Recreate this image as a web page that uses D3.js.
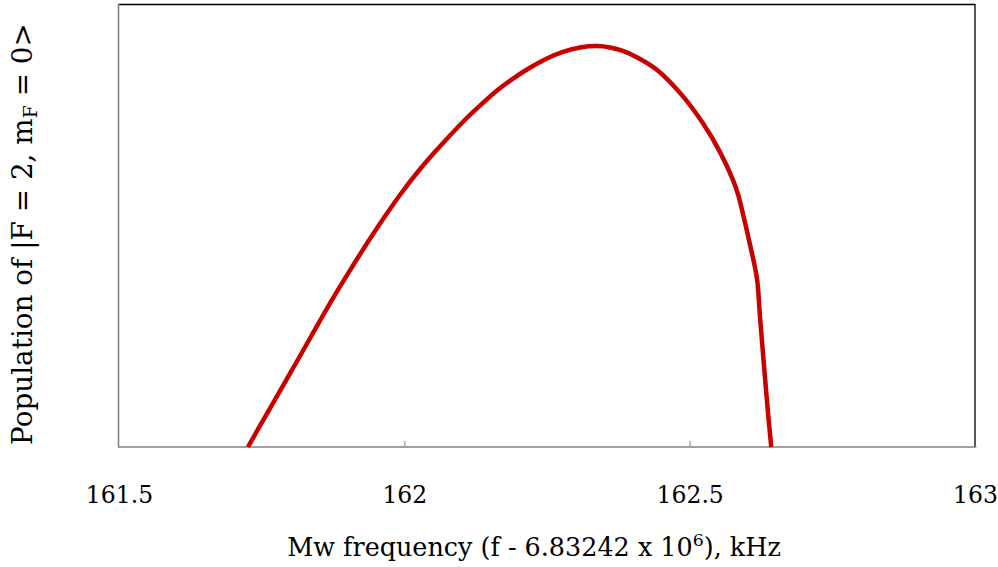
<!DOCTYPE html>
<html>
<head>
<meta charset="utf-8">
<script src="https://cdn.jsdelivr.net/npm/d3@7"></script>
<style>
  html, body { margin: 0; padding: 0; background: #fff; }
  svg { display: block; }
  text { font-family: "DejaVu Serif", "Liberation Serif", serif; fill: #000; }
</style>
</head>
<body>
<svg id="chart" width="998" height="567"></svg>
<script>
// ---- data ----
const freq = [161.726, 161.752, 161.805, 161.873, 161.908, 161.945, 161.992, 162.027, 162.063, 162.106,
              162.133, 162.162, 162.190, 162.220, 162.250, 162.278, 162.308, 162.338, 162.360, 162.383,
              162.413, 162.443, 162.488, 162.523, 162.553, 162.576, 162.585, 162.593, 162.606, 162.618,
              162.623, 162.630, 162.637, 162.643];
const population = [0.000, 0.059, 0.178, 0.332, 0.406, 0.481, 0.569, 0.627, 0.680, 0.739,
                    0.772, 0.805, 0.832, 0.857, 0.878, 0.893, 0.903, 0.906, 0.903, 0.895,
                    0.877, 0.852, 0.793, 0.732, 0.667, 0.603, 0.570, 0.529, 0.456, 0.380,
                    0.298, 0.188, 0.081, 0.000];
const xTickValues = [161.5, 162, 162.5, 163];
const xTickLabels = ["161.5", "162", "162.5", "163"];
const xDomain = [161.5, 163];
const yDomain = [0, 1];

// ---- layout ----
const svg = d3.select("#chart");
const L = 119, R = 975, T = 4.5, B = 447;
const x = d3.scaleLinear().domain(xDomain).range([L, R]);
const y = d3.scaleLinear().domain(yDomain).range([B, T]);

// frame: top & right black, left & bottom grey
svg.append("line").attr("x1", L - 1).attr("x2", R + 0.5).attr("y1", T).attr("y2", T)
  .attr("stroke", "#000").attr("stroke-width", 1.3);
svg.append("line").attr("x1", R).attr("x2", R).attr("y1", T).attr("y2", B)
  .attr("stroke", "#000").attr("stroke-width", 1.3);
svg.append("line").attr("x1", L - 0.5).attr("x2", L - 0.5).attr("y1", T - 0.6).attr("y2", B)
  .attr("stroke", "#808080").attr("stroke-width", 1.6);

// x axis
const xAxis = d3.axisBottom(x)
  .tickValues(xTickValues)
  .tickFormat((d, i) => xTickLabels[i])
  .tickSizeInner(-6).tickSizeOuter(0);
const gx = svg.append("g").attr("transform", `translate(0,${B})`).call(xAxis);
gx.select(".domain").attr("stroke", "#808080").attr("stroke-width", 1.6)
  .attr("d", `M${L - 1},0H${R + 1.5}`);
gx.selectAll(".tick line").attr("stroke", "#999").attr("stroke-width", 1.2)
  .attr("display", d => (d === xDomain[0] || d === xDomain[1]) ? "none" : null);
gx.selectAll(".tick text")
  .attr("y", 56).attr("dy", 0)
  .style("font-family", '"DejaVu Serif", serif')
  .attr("font-size", 23.5).attr("fill", "#000");

// curve
const line = d3.line()
  .x((d, i) => x(freq[i]))
  .y((d, i) => y(population[i]))
  .curve(d3.curveCatmullRom.alpha(0.5));
svg.append("path")
  .datum(population)
  .attr("d", line)
  .attr("fill", "none")
  .attr("stroke", "#c80000")
  .attr("stroke-width", 4.5)
  .attr("stroke-linejoin", "round")
  .attr("stroke-linecap", "butt");

// helper: fit a text element to a target width by adjusting font-size
function fitWidth(sel, target) {
  const w = sel.node().getComputedTextLength();
  const fs = +sel.attr("font-size");
  const k = target / w;
  sel.attr("font-size", fs * k);
  sel.selectAll("tspan").each(function () {
    const t = d3.select(this);
    if (t.attr("font-size")) t.attr("font-size", +t.attr("font-size") * k);
    if (t.attr("dy")) t.attr("dy", +t.attr("dy") * k);
  });
}

// x axis title
const xt = svg.append("text")
  .attr("x", 534).attr("y", 556)
  .attr("text-anchor", "middle")
  .attr("font-size", 22);
xt.append("tspan").text("Mw frequency (f - 6.83242 x 10");
xt.append("tspan").text("6").attr("font-size", 15).attr("dy", -9);
xt.append("tspan").text("), kHz").attr("dy", 9);
fitWidth(xt, 494);

// y axis title
const yt = svg.append("text")
  .attr("transform", "translate(32,234) rotate(-90)")
  .attr("text-anchor", "middle")
  .attr("font-size", 22);
yt.append("tspan").text("Population of |F = 2, m");
yt.append("tspan").text("F").attr("font-size", 15).attr("dy", 4);
yt.append("tspan").text(" = 0>").attr("dy", -4);
fitWidth(yt, 422);
</script>
</body>
</html>
